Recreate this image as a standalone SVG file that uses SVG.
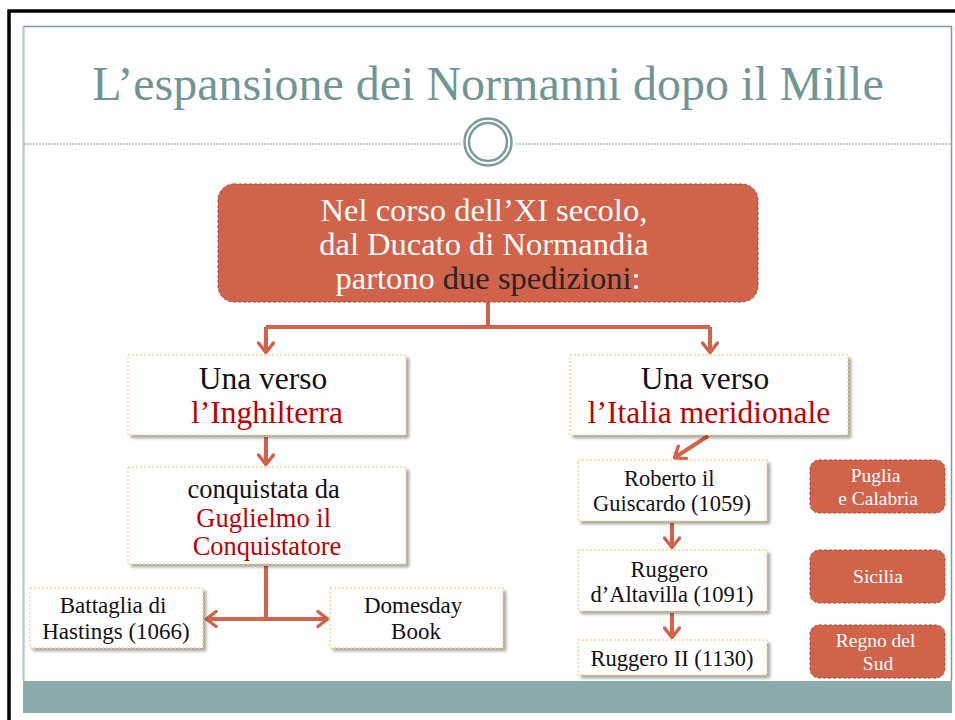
<svg xmlns="http://www.w3.org/2000/svg" width="955" height="720" viewBox="0 0 955 720" font-family="'Liberation Serif', 'DejaVu Serif', serif">
<style>
  text { font-family: "Liberation Serif", "DejaVu Serif", serif; }
  .wbox { fill: #ffffff; stroke: #f2c14e; stroke-width: 1; stroke-dasharray: 2 2; filter: url(#sh); }
  .rbox { fill: #d1634a; stroke: #a84a36; stroke-width: 1; stroke-dasharray: 3 2; }
  .conn { stroke: #d1634a; stroke-width: 4; fill: none; }
  .blk { fill: #111111; }
  .red { fill: #c00000; }
  .wht { fill: #ffffff; }
</style>
<defs>
  <filter id="sh" x="-10%" y="-10%" width="130%" height="140%">
    <feDropShadow dx="3" dy="3" stdDeviation="1.8" flood-color="#000" flood-opacity="0.35"/>
  </filter>
  <marker id="ah" viewBox="0 0 14 18" refX="12" refY="9" markerWidth="14" markerHeight="18" markerUnits="userSpaceOnUse" orient="auto">
    <path d="M2,1.5 L11.5,9 L2,16.5" fill="none" stroke="#d1634a" stroke-width="3.5" stroke-linecap="round" stroke-linejoin="round"/>
  </marker>
  <marker id="ahs" viewBox="0 0 14 18" refX="12" refY="9" markerWidth="14" markerHeight="18" markerUnits="userSpaceOnUse" orient="auto-start-reverse">
    <path d="M2,1.5 L11.5,9 L2,16.5" fill="none" stroke="#d1634a" stroke-width="3.5" stroke-linecap="round" stroke-linejoin="round"/>
  </marker>
</defs>

<rect x="0" y="0" width="955" height="720" fill="#ffffff"/>
<!-- outer black frame -->
<path d="M9,720 L9,11 L955,11" fill="none" stroke="#000" stroke-width="3.5"/>
<!-- inner frame -->
<path d="M23.5,681 L23.5,26.5 L951.5,26.5 L951.5,681" fill="none" stroke="#7a9c9c" stroke-width="1.5"/>
<path d="M23.5,681 L23.5,26.5" fill="none" stroke="#b9cdcd" stroke-width="2"/>
<rect x="23" y="681" width="929" height="32" fill="#8aabab"/>

<!-- title -->
<text x="488" y="100" text-anchor="middle" font-size="48" fill="#6f9595">L’espansione dei Normanni dopo il Mille</text>
<line x1="24" y1="144" x2="461" y2="144" stroke="#7a9c9c" stroke-width="1" stroke-dasharray="2 1"/>
<line x1="516" y1="144" x2="951" y2="144" stroke="#7a9c9c" stroke-width="1" stroke-dasharray="2 1"/>
<circle cx="488" cy="142" r="23.5" fill="#fff" stroke="#7a9c9c" stroke-width="2.5"/>
<circle cx="488" cy="142" r="19" fill="none" stroke="#7a9c9c" stroke-width="2.5"/>

<!-- connectors -->
<g id="connectors">
  <path class="conn" d="M488,302 L488,327"/>
  <path class="conn" d="M266,327 L710,327"/>
  <path class="conn" d="M266,327 L266,353" marker-end="url(#ah)"/>
  <path class="conn" d="M710,327 L710,353" marker-end="url(#ah)"/>
  <path class="conn" d="M266,437 L266,465" marker-end="url(#ah)"/>
  <path class="conn" d="M266,566 L266,619"/>
  <path class="conn" d="M206,619 L328,619" marker-start="url(#ahs)" marker-end="url(#ah)"/>
  <path class="conn" d="M708,436 L674,458" marker-end="url(#ah)"/>
  <path class="conn" d="M672,523 L672,548" marker-end="url(#ah)"/>
  <path class="conn" d="M672,613 L672,638" marker-end="url(#ah)"/>
</g>

<g id="top">
  <rect x="218" y="184" width="540" height="118" rx="16" class="rbox"/>
  <text text-anchor="middle" font-size="32.5">
    <tspan x="488" y="221" class="wht">Nel corso dell’XI secolo,</tspan>
    <tspan x="488" y="255" class="wht">dal Ducato di Normandia</tspan>
    <tspan x="488" y="289" class="wht">partono <tspan fill="#262626">due spedizioni</tspan>:</tspan>
  </text>
</g>

<g id="inghilterra">
  <rect x="128" y="355" width="278" height="80" class="wbox"/>
  <text text-anchor="middle" font-size="31.5">
    <tspan x="267" y="389" class="blk">Una verso</tspan>
    <tspan x="267" y="423" class="red">l’Inghilterra</tspan>
  </text>
</g>

<g id="guglielmo">
  <rect x="128" y="467" width="278" height="97" class="wbox"/>
  <text text-anchor="middle" font-size="26.5">
    <tspan x="267" y="498" class="blk">conquistata da</tspan>
    <tspan x="267" y="527" class="red">Guglielmo il</tspan>
    <tspan x="267" y="555" class="red">Conquistatore</tspan>
  </text>
</g>

<g id="hastings">
  <rect x="30" y="588" width="173" height="60" class="wbox"/>
  <text text-anchor="middle" font-size="23">
    <tspan x="116" y="613" class="blk">Battaglia di</tspan>
    <tspan x="116" y="639" class="blk">Hastings (1066)</tspan>
  </text>
</g>

<g id="domesday">
  <rect x="330" y="588" width="173" height="60" class="wbox"/>
  <text text-anchor="middle" font-size="23">
    <tspan x="416" y="613" class="blk">Domesday</tspan>
    <tspan x="416" y="639" class="blk">Book</tspan>
  </text>
</g>

<g id="italia">
  <rect x="570" y="355" width="278" height="80" class="wbox"/>
  <text text-anchor="middle" font-size="31.5">
    <tspan x="709" y="389" class="blk">Una verso</tspan>
    <tspan x="709" y="423" class="red">l’Italia meridionale</tspan>
  </text>
</g>

<g id="roberto">
  <rect x="578" y="460" width="189" height="61" class="wbox"/>
  <text text-anchor="middle" font-size="22.5">
    <tspan x="672" y="486" class="blk">Roberto il</tspan>
    <tspan x="672" y="511" class="blk">Guiscardo (1059)</tspan>
  </text>
</g>

<g id="ruggero">
  <rect x="578" y="550" width="189" height="61" class="wbox"/>
  <text text-anchor="middle" font-size="22.5">
    <tspan x="672" y="577" class="blk">Ruggero</tspan>
    <tspan x="672" y="602" class="blk">d’Altavilla (1091)</tspan>
  </text>
</g>

<g id="ruggero2">
  <rect x="578" y="640" width="189" height="35" class="wbox"/>
  <text x="672" y="666" text-anchor="middle" font-size="22.5" fill="#111">Ruggero II (1130)</text>
</g>

<g id="puglia">
  <rect x="810" y="460" width="135" height="53" rx="9" class="rbox"/>
  <text text-anchor="middle" font-size="19.5">
    <tspan x="878" y="482" class="wht">Puglia</tspan>
    <tspan x="878" y="505" class="wht">e Calabria</tspan>
  </text>
</g>

<g id="sicilia">
  <rect x="810" y="550" width="135" height="53" rx="9" class="rbox"/>
  <text x="878" y="583" text-anchor="middle" font-size="19.5" fill="#fff">Sicilia</text>
</g>

<g id="regno">
  <rect x="810" y="625" width="135" height="53" rx="9" class="rbox"/>
  <text text-anchor="middle" font-size="19.5">
    <tspan x="878" y="647" class="wht">Regno del</tspan>
    <tspan x="878" y="670" class="wht">Sud</tspan>
  </text>
</g>
</svg>
